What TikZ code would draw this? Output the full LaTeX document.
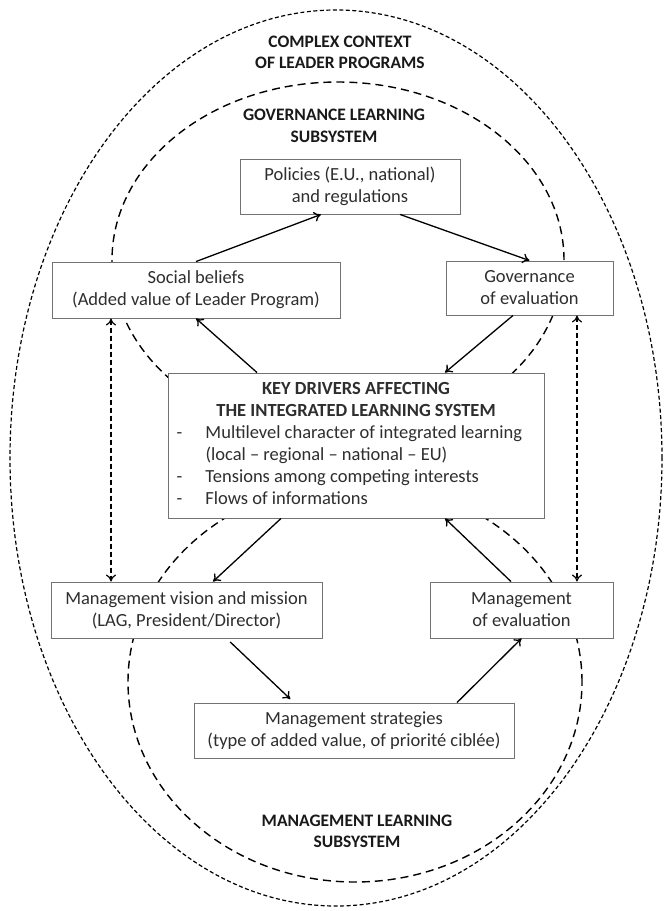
\documentclass[tikz,border=0pt]{standalone}
\usepackage{fontspec}
\setmainfont{Carlito}
\usetikzlibrary{arrows.meta}
\definecolor{boxgray}{gray}{0.45}
\definecolor{txtgray}{gray}{0.18}
\tikzset{
    every node/.style={font=\fontsize{18.5}{22}\selectfont, text=txtgray}
}
\tikzset{
    box/.style={draw=boxgray, fill=white, line width=0.9pt, align=center,
    	inner sep=0pt},
    heading/.style={align=center, text=black!90, font=\fontsize{17.5}{21.5}\selectfont\bfseries}
}
\tikzset{
    flow/.style={-{To[length=7pt,width=10pt]}, line width=1.3pt},
    link/.style={{To[length=7pt,width=10pt]}-{To[length=7pt,width=10pt]},
    	line width=1.2pt, dash pattern=on 5pt off 3pt},
    ring/.style={line width=1.2pt, dash pattern=on 4pt off 2.5pt},
    subring/.style={line width=1.4pt, dash pattern=on 8pt off 5pt}
}
\pgfdeclarelayer{background}
\pgfsetlayers{background,main}

\begin{document}
\begin{tikzpicture}[x=1pt,y=-1pt]
	\useasboundingbox (0,0) rectangle (665,911);

	\node[heading] (ctx) at (340,52.5) {COMPLEX CONTEXT\\OF LEADER PROGRAMS};
	\node[heading] (govsys) at (334,126) {GOVERNANCE LEARNING\\SUBSYSTEM};
	\node[heading] (mgtsys) at (357,831.5) {MANAGEMENT LEARNING\\SUBSYSTEM};

	\node[box, minimum width=220pt, minimum height=55pt] (pol) at (350,186.5)
		{Policies (E.U., national)\\and regulations};
	\node[box, minimum width=288pt, minimum height=56pt] (soc) at (196,290)
		{Social beliefs\\(Added value of Leader Program)};
	\node[box, minimum width=167pt, minimum height=54pt] (gov) at (529.5,288)
		{Governance\\of evaluation};
	\node[box, minimum width=376pt, minimum height=145pt] (key) at (356,445.5)
		{\begin{tabular}{@{}p{29pt}@{}p{330pt}@{}}
		\multicolumn{2}{c}{\textbf{KEY DRIVERS AFFECTING}}\\
		\multicolumn{2}{c}{\textbf{THE INTEGRATED LEARNING SYSTEM}}\\
		- & Multilevel character of integrated learning\\
		  & (local -- regional -- national -- EU)\\
		- & Tensions among competing interests\\
		- & Flows of informations
		\end{tabular}};
	\node[box, minimum width=271pt, minimum height=56pt] (mvis) at (186.5,610)
		{Management vision and mission\\(LAG, President/Director)};
	\node[box, minimum width=183pt, minimum height=56pt] (meval) at (521.5,610)
		{Management\\of evaluation};
	\node[box, minimum width=320pt, minimum height=55pt] (mstr) at (354,730.5)
		{Management strategies\\(type of added value, of priorité ciblée)};

	\begin{pgfonlayer}{background}
		\draw[ring] (336,458) ellipse [x radius=326pt, y radius=448pt];
		\draw[subring] (338,260) ellipse [x radius=226pt, y radius=178pt];
		\draw[subring] (355,682) ellipse [x radius=227pt, y radius=200pt];
	\end{pgfonlayer}

	\draw[flow] (soc.north) -- ([xshift=-29pt]pol.south);
	\draw[flow] ([xshift=50pt]pol.south) -- (gov.north);
	\draw[flow] ([xshift=-16.5pt]gov.south) -- ([xshift=89pt]key.north);
	\draw[flow] ([xshift=-99pt]key.north) -- (soc.south);
	\draw[flow] ([xshift=-75pt]key.south) -- ([xshift=26.5pt]mvis.north);
	\draw[flow, shorten <=5pt, shorten >=5pt] ([xshift=40pt]mvis.south)
		-- ([xshift=-60pt]mstr.north);
	\draw[flow] ([xshift=103pt]mstr.north) -- (meval.south);
	\draw[flow] ([xshift=-10.5pt]meval.north) -- ([xshift=89pt]key.south);

	\draw[link] ([xshift=-85pt]soc.south) -- ([xshift=-75.5pt]mvis.north);
	\draw[link] ([xshift=47.5pt]gov.south) -- ([xshift=55.5pt]meval.north);
\end{tikzpicture}
\end{document}
